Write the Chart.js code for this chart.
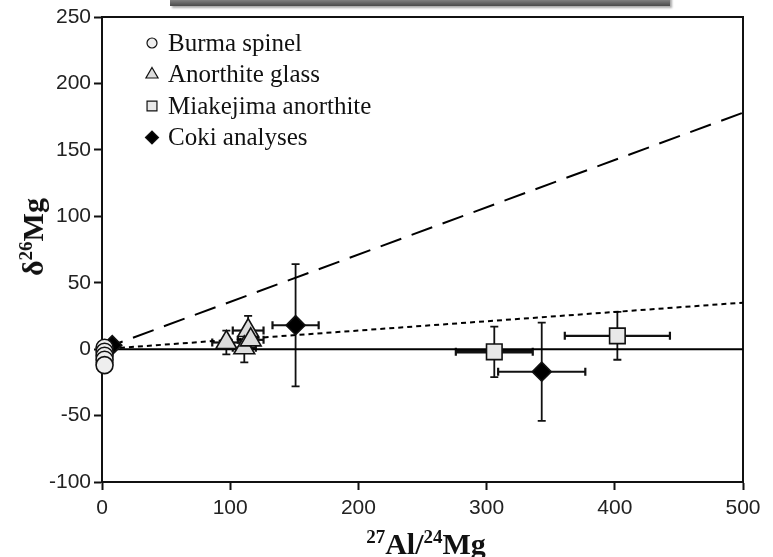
<!DOCTYPE html>
<html>
<head>
<meta charset="utf-8">
<script src="https://cdn.jsdelivr.net/npm/chart.js@4.4.1/dist/chart.umd.min.js"></script>
<style>
body { margin: 0; background: #fff; }
#wrap { position: relative; width: 773px; height: 557px; overflow: hidden; }
#topBox { position: absolute; left: 170px; top: -8px; width: 500px; height: 14px;
  background: linear-gradient(#c8c8c8, #4a4a4a); box-shadow: 2px 2px 2px #aaa; }
.axtitle { position: absolute; font-family: "Liberation Serif", serif; font-weight: bold;
  font-size: 30px; color: #111; white-space: nowrap; line-height: 1; }
.axtitle sup { font-size: 19px; vertical-align: 11px; line-height: 0; }
#ytitle { left: 33px; top: 237px; transform: translate(-50%, -50%) rotate(-90deg); }
#xtitle { left: 426px; top: 544px; transform: translate(-50%, -50%); }
</style>
</head>
<body>
<div id="wrap">
  <canvas id="chart" width="773" height="557"></canvas>
  <div id="topBox"></div>
  <div id="ytitle" class="axtitle">&delta;<sup>26</sup>Mg</div>
  <div id="xtitle" class="axtitle"><sup>27</sup>Al/<sup>24</sup>Mg</div>
</div>
<script>
// data
const burmaX = [2, 2, 2, 2, 2];
const burmaY = [1, -2, -5, -8, -12];

const glassX = [97, 114, 111, 116];
const glassY = [5, 14, 1, 7];
const glassErrX = [11, 12, 9, 10];
const glassErrY = [9, 11, 11, 6];

const miakeX = [306, 402];
const miakeY = [-2, 10];
const miakeErrX = [30, 41];
const miakeErrY = [19, 18];

const cokiX = [8, 151, 343];
const cokiY = [3, 18, -17];
const cokiErrX = [0, 18, 34];
const cokiErrY = [0, 46, 37];

const refLineX = [0, 500];
const zeroLineY = [0, 0];
const steepLineY = [0, 178];
const shallowLineY = [0, 35];

const xTicks = [0, 100, 200, 300, 400, 500];
const yTicks = [-100, -50, 0, 50, 100, 150, 200, 250];

function pts(xs, ys) {
    return xs.map((x, i) => ({ x: x, y: ys[i] }));
}

// error bars drawn through the scales
const errorBars = {
    id: 'errorBars',
    beforeDatasetsDraw(chart) {
        const ctx = chart.ctx;
        const xs = chart.scales.x, ys = chart.scales.y;
        ctx.save();
        ctx.strokeStyle = '#111';
        chart.data.datasets.forEach(ds => {
            if (!ds.errX) return;
            ds.data.forEach((p, i) => {
                const cx = xs.getPixelForValue(p.x), cy = ys.getPixelForValue(p.y);
                const ex = ds.errX[i], ey = ds.errY[i];
                if (ex) {
                    const x1 = xs.getPixelForValue(p.x - ex), x2 = xs.getPixelForValue(p.x + ex);
                    ctx.lineWidth = ds.errXWidth ? ds.errXWidth[i] : 2.2;
                    ctx.beginPath();
                    ctx.moveTo(x1, cy); ctx.lineTo(x2, cy);
                    ctx.stroke();
                    ctx.lineWidth = 2.2;
                    ctx.beginPath();
                    ctx.moveTo(x1, cy - 4); ctx.lineTo(x1, cy + 4);
                    ctx.moveTo(x2, cy - 4); ctx.lineTo(x2, cy + 4);
                    ctx.stroke();
                }
                if (ey) {
                    const y1 = ys.getPixelForValue(p.y - ey), y2 = ys.getPixelForValue(p.y + ey);
                    ctx.lineWidth = 1.8;
                    ctx.beginPath();
                    ctx.moveTo(cx, y1); ctx.lineTo(cx, y2);
                    ctx.moveTo(cx - 4, y1); ctx.lineTo(cx + 4, y1);
                    ctx.moveTo(cx - 4, y2); ctx.lineTo(cx + 4, y2);
                    ctx.stroke();
                }
            });
        });
        // frame
        const a = chart.chartArea;
        ctx.lineWidth = 2;
        ctx.strokeRect(a.left, a.top, a.right - a.left, a.bottom - a.top);
        ctx.restore();
    }
};

// legend inside the plot, top left
const innerLegend = {
    id: 'innerLegend',
    afterDraw(chart) {
        const ctx = chart.ctx;
        const sizes = [5, 7, 7, 6.5];
        ctx.save();
        ctx.font = '25px "Liberation Serif", serif';
        ctx.textBaseline = 'middle';
        chart.data.datasets.slice(0, 4).forEach((ds, i) => {
            const y = 43 + i * 31.5;
            ctx.fillStyle = ds.pointBackgroundColor;
            ctx.strokeStyle = '#111';
            ctx.lineWidth = 1.2;
            Chart.helpers.drawPoint(ctx, { pointStyle: ds.pointStyle, radius: sizes[i], borderWidth: 1.2, rotation: 0 }, 152, y);
            ctx.fillStyle = '#111';
            ctx.fillText(ds.label, 168, y + 1);
        });
        ctx.restore();
    }
};

const pointBase = { showLine: false, pointBorderColor: '#111', pointBorderWidth: 1.6, order: 0, clip: false };

new Chart(document.getElementById('chart').getContext('2d'), {
    type: 'scatter',
    data: {
        datasets: [
            Object.assign({ label: 'Burma spinel', data: pts(burmaX, burmaY),
                pointStyle: 'circle', pointRadius: 8.5, pointBackgroundColor: '#eeeeee' }, pointBase),
            Object.assign({ label: 'Anorthite glass', data: pts(glassX, glassY), errX: glassErrX, errY: glassErrY,
                pointStyle: 'triangle', pointRadius: 12, pointBackgroundColor: '#dcdcdc' }, pointBase),
            Object.assign({ label: 'Miakejima anorthite', data: pts(miakeX, miakeY), errX: miakeErrX, errY: miakeErrY,
                errXWidth: [3.6, 2.2],
                pointStyle: 'rect', pointRadius: 11, pointBackgroundColor: '#e8e8e8' }, pointBase),
            Object.assign({ label: 'Coki analyses', data: pts(cokiX, cokiY), errX: cokiErrX, errY: cokiErrY,
                pointStyle: 'rectRot', pointRadius: 9.5, pointBackgroundColor: '#000000' }, pointBase),
            { label: 'zero', data: pts(refLineX, zeroLineY), showLine: true, pointRadius: 0,
                borderColor: '#000', borderWidth: 2, order: 5 },
            { label: 'steep', data: pts(refLineX, steepLineY), showLine: true, pointRadius: 0,
                borderColor: '#000', borderWidth: 2, borderDash: [22, 11], order: 5 },
            { label: 'shallow', data: pts(refLineX, shallowLineY), showLine: true, pointRadius: 0,
                borderColor: '#000', borderWidth: 2, borderDash: [5, 4], order: 5 }
        ]
    },
    options: {
        responsive: false,
        animation: false,
        layout: { padding: { top: 17, right: 30, left: 0, bottom: 0 } },
        plugins: {
            legend: { display: false },
            tooltip: { enabled: false }
        },
        scales: {
            x: {
                type: 'linear', min: 0, max: 500,
                afterFit: s => { s.height = 75; },
                afterBuildTicks: s => { s.ticks = xTicks.map(v => ({ value: v })); },
                grid: { drawOnChartArea: false, tickLength: 8, tickColor: '#111', tickWidth: 2 },
                border: { color: '#111', width: 2 },
                ticks: { color: '#222', padding: 6, font: { family: '"Liberation Sans", Arial, sans-serif', size: 21 } }
            },
            y: {
                type: 'linear', min: -100, max: 250,
                afterFit: s => { s.width = 102; },
                afterBuildTicks: s => { s.ticks = yTicks.map(v => ({ value: v })); },
                grid: { drawOnChartArea: false, tickLength: 8, tickColor: '#111', tickWidth: 2 },
                border: { color: '#111', width: 2 },
                ticks: { color: '#222', padding: 3, font: { family: '"Liberation Sans", Arial, sans-serif', size: 21 } }
            }
        }
    },
    plugins: [errorBars, innerLegend]
});
</script>
</body>
</html>
